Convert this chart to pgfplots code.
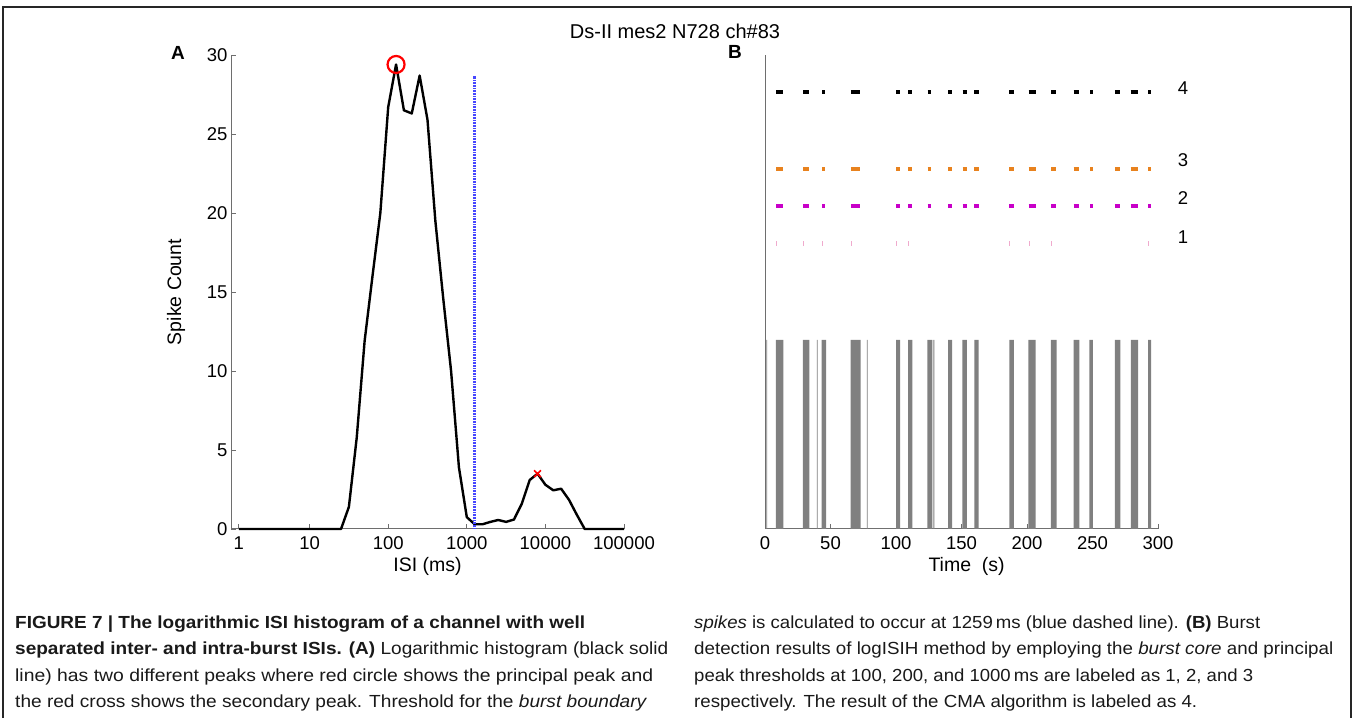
\documentclass[border=0pt]{standalone}
\usepackage{pgfplots}
\pgfplotsset{compat=1.18}
\usepackage{fontspec}
\setmainfont{Liberation Sans}
\usepackage{graphicx}

\definecolor{axgray}{RGB}{110,110,110}
\definecolor{barGray}{RGB}{128,128,128}
\definecolor{rowOrange}{RGB}{232,130,30}
\definecolor{rowMag}{RGB}{200,0,200}
\definecolor{rowPink}{RGB}{240,170,205}
\definecolor{thrBlue}{RGB}{70,70,255}
\newcommand{\tk}{\fontsize{18.5}{20}\selectfont}
\newcommand{\lab}{\fontsize{19.5}{22}\selectfont}
\newcommand{\capf}{\fontsize{17.5}{20}\selectfont\color{black!90}}

\pgfplotsset{
  mystyle/.style={
    scale only axis,
    axis x line=bottom, axis y line=left,
    axis line style={-, axgray, line width=1pt},
    tick align=inside, major tick length=5pt,
    tick style={axgray, line width=0.8pt},
    tick label style={font=\tk},
    xticklabel style={yshift=-4pt},
    label style={font=\lab},
    /pgf/number format/assume math mode=true,
    clip=false,
  }
}

\begin{document}
\begin{tikzpicture}[x=1pt,y=1pt]
\path[use as bounding box] (0,0) rectangle (1355,718);
\draw[line width=2pt, black!85] (3,0) -- (3,711) -- (1351,711) -- (1351,0);

% titles
\node[font=\fontsize{20}{22}\selectfont] at (675,687) {Ds-II mes2 N728 ch\#83};
\node[font=\fontsize{19}{21}\selectfont\bfseries] at (178,665) {A};
\node[font=\fontsize{19}{21}\selectfont\bfseries] at (735,666) {B};

% ---------------- Panel A ----------------
\begin{axis}[mystyle, at={(231pt,189pt)}, anchor=south west,
  width=393pt, height=474pt,
  xmode=log, xmin=1, xmax=100000, ymin=0, ymax=30,
  xtick={1.2589,10,100,1000,10000,100000},
  xticklabels={1,10,100,1000,10000,100000},
  xminorticks=false,
  ytick={0,5,10,15,20,25,30},
  xlabel={ISI (ms)}, ylabel={Spike Count},
  xlabel style={at={(axis description cs:0.5,-0.08)}, anchor=center},
  ylabel style={at={(axis description cs:-0.14,0.5)}, anchor=center},
]
\addplot[black, line width=2.4pt, line join=round] table {
x y
1.259 0
1.585 0
1.995 0
2.512 0
3.162 0
3.981 0
5.012 0
6.310 0
7.943 0
10 0
12.59 0
15.85 0
19.95 0
25.12 0
31.62 1.4
39.81 5.8
50.12 11.9
63.10 16.0
79.43 20.0
100 26.7
125.9 29.4
158.5 26.5
199.5 26.3
251.2 28.7
316.2 25.9
398.1 19.5
501.2 14.6
631.0 10.0
794.3 3.9
1000 0.75
1259 0.3
1585 0.3
1995 0.45
2512 0.57
3162 0.45
3981 0.6
5012 1.6
6310 3.1
7943 3.5
10000 2.8
12589 2.45
15849 2.55
19953 1.85
25119 0.9
31623 0
39811 0
50119 0
63096 0
79433 0
100000 0
};
\addplot[thrBlue, line width=2.5pt, dash pattern=on 1pt off 0.6pt] coordinates {(1259,0) (1259,28.7)};
\addplot[only marks, mark=o, mark size=8.5pt, red, line width=2.2pt] coordinates {(125.9,29.4)};
\addplot[only marks, mark=x, mark size=4.8pt, red, line width=1.6pt] coordinates {(7943,3.5)};
\end{axis}

% ---------------- Panel B ----------------
\begin{axis}[mystyle, at={(765pt,189pt)}, anchor=south west,
  width=393pt, height=474pt,
  xmin=0, xmax=300, ymin=0, ymax=474,
  xtick={0,50,100,150,200,250,300}, ytick=\empty,
  xlabel={Time\ \ (s)},
  xlabel style={at={(axis description cs:0.513,-0.08)}, anchor=center},
]
\addplot[fill=barGray, draw=none] coordinates {
(1.0,0)(1.0,189)(1.7,189)(1.7,0)
(8.2,0)(8.2,189)(14.0,189)(14.0,0)
(29.0,0)(29.0,189)(33.8,189)(33.8,0)
(39.5,0)(39.5,189)(40.2,189)(40.2,0)
(43.3,0)(43.3,189)(46.6,189)(46.6,0)
(65.4,0)(65.4,189)(73.0,189)(73.0,0)
(77.7,0)(77.7,189)(78.4,189)(78.4,0)
(100.0,0)(100.0,189)(103.2,189)(103.2,0)
(109.2,0)(109.2,189)(112.4,189)(112.4,0)
(123.9,0)(123.9,189)(127.7,189)(127.7,0)
(128.6,0)(128.6,189)(129.3,189)(129.3,0)
(139.7,0)(139.7,189)(142.9,189)(142.9,0)
(150.6,0)(150.6,189)(154.0,189)(154.0,0)
(159.8,0)(159.8,189)(163.1,189)(163.1,0)
(186.5,0)(186.5,189)(190.0,189)(190.0,0)
(201.0,0)(201.0,189)(206.6,189)(206.6,0)
(218.2,0)(218.2,189)(222.6,189)(222.6,0)
(235.6,0)(235.6,189)(240.0,189)(240.0,0)
(247.6,0)(247.6,189)(250.2,189)(250.2,0)
(267.0,0)(267.0,189)(271.2,189)(271.2,0)
(279.2,0)(279.2,189)(284.8,189)(284.8,0)
(292.4,0)(292.4,189)(294.7,189)(294.7,0)
};
% row 4 (CMA)
\addplot[black, line width=3.5pt, unbounded coords=jump] coordinates {
(8.4,437)(13.5,437)(14,nan)(29.2,437)(33.6,437)(34,nan)(43.7,437)(46.0,437)(47,nan)
(65.6,437)(72.5,437)(73,nan)(100.2,437)(102.8,437)(103,nan)(109.4,437)(112.0,437)(113,nan)
(124.2,437)(127.0,437)(128,nan)(140.0,437)(142.7,437)(143,nan)(150.9,437)(154.0,437)(155,nan)
(159.8,437)(163.1,437)(164,nan)(186.5,437)(190.0,437)(191,nan)(201.3,437)(206.6,437)(207,nan)
(218.6,437)(222.4,437)(223,nan)(235.6,437)(239.7,437)(240,nan)(248.1,437)(250.2,437)(251,nan)
(267.0,437)(271.0,437)(272,nan)(279.0,437)(284.5,437)(285,nan)(292.4,437)(294.4,437)
};
% row 3
\addplot[rowOrange, line width=3.5pt, unbounded coords=jump] coordinates {
(8.4,360)(13.5,360)(14,nan)(29.2,360)(33.6,360)(34,nan)(43.7,360)(46.0,360)(47,nan)
(65.6,360)(72.5,360)(73,nan)(100.2,360)(102.8,360)(103,nan)(109.4,360)(112.0,360)(113,nan)
(124.2,360)(127.0,360)(128,nan)(140.0,360)(142.7,360)(143,nan)(150.9,360)(154.0,360)(155,nan)
(159.8,360)(163.1,360)(164,nan)(186.5,360)(190.0,360)(191,nan)(201.3,360)(206.6,360)(207,nan)
(218.6,360)(222.4,360)(223,nan)(235.6,360)(239.7,360)(240,nan)(248.1,360)(250.2,360)(251,nan)
(267.0,360)(271.0,360)(272,nan)(279.0,360)(284.5,360)(285,nan)(292.4,360)(294.4,360)
};
% row 2
\addplot[rowMag, line width=3.5pt, unbounded coords=jump] coordinates {
(8.4,323)(13.5,323)(14,nan)(29.2,323)(33.6,323)(34,nan)(43.7,323)(46.0,323)(47,nan)
(65.6,323)(72.5,323)(73,nan)(100.2,323)(102.8,323)(103,nan)(109.4,323)(112.0,323)(113,nan)
(124.2,323)(127.0,323)(128,nan)(140.0,323)(142.7,323)(143,nan)(150.9,323)(154.0,323)(155,nan)
(159.8,323)(163.1,323)(164,nan)(186.5,323)(190.0,323)(191,nan)(201.3,323)(206.6,323)(207,nan)
(218.6,323)(222.4,323)(223,nan)(235.6,323)(239.7,323)(240,nan)(248.1,323)(250.2,323)(251,nan)
(267.0,323)(271.0,323)(272,nan)(279.0,323)(284.5,323)(285,nan)(292.4,323)(294.4,323)
};
% row 1
\addplot[only marks, mark=|, mark size=2.5pt, rowPink, line width=0.8pt] coordinates {
(9.0,285)(29.2,285)(44.0,285)(65.9,285)(100.5,285)(109.7,285)(186.5,285)(201.5,285)(218.6,285)(292.7,285)
};
\node[font=\tk] at (axis cs:319,441) {4};
\node[font=\tk] at (axis cs:319,369) {3};
\node[font=\tk] at (axis cs:319,331) {2};
\node[font=\tk] at (axis cs:319,292) {1};
\end{axis}

% ---------------- Caption ----------------
\begin{scope}[every node/.style={anchor=base west, inner sep=0pt}]
\node at (15,90) {\resizebox{570pt}{\height}{\capf\bfseries FIGURE 7 | The logarithmic ISI histogram of a channel with well}};
\node at (15,64) {\resizebox{653pt}{\height}{\capf\textbf{separated inter- and intra-burst ISIs. (A)} Logarithmic histogram (black solid}};
\node at (15,37) {\resizebox{638pt}{\height}{\capf line) has two different peaks where red circle shows the principal peak and}};
\node at (15,11) {\resizebox{632pt}{\height}{\capf the red cross shows the secondary peak. Threshold for the \textit{burst boundary}}};
\node at (694,90) {\resizebox{566pt}{\height}{\capf\textit{spikes} is calculated to occur at 1259\,ms (blue dashed line). \textbf{(B)} Burst}};
\node at (694,64) {\resizebox{639pt}{\height}{\capf detection results of logISIH method by employing the \textit{burst core} and principal}};
\node at (694,37) {\resizebox{559pt}{\height}{\capf peak thresholds at 100, 200, and 1000\,ms are labeled as 1, 2, and 3}};
\node at (694,11) {\resizebox{503pt}{\height}{\capf respectively. The result of the CMA algorithm is labeled as 4.}};
\end{scope}
\end{tikzpicture}
\end{document}
